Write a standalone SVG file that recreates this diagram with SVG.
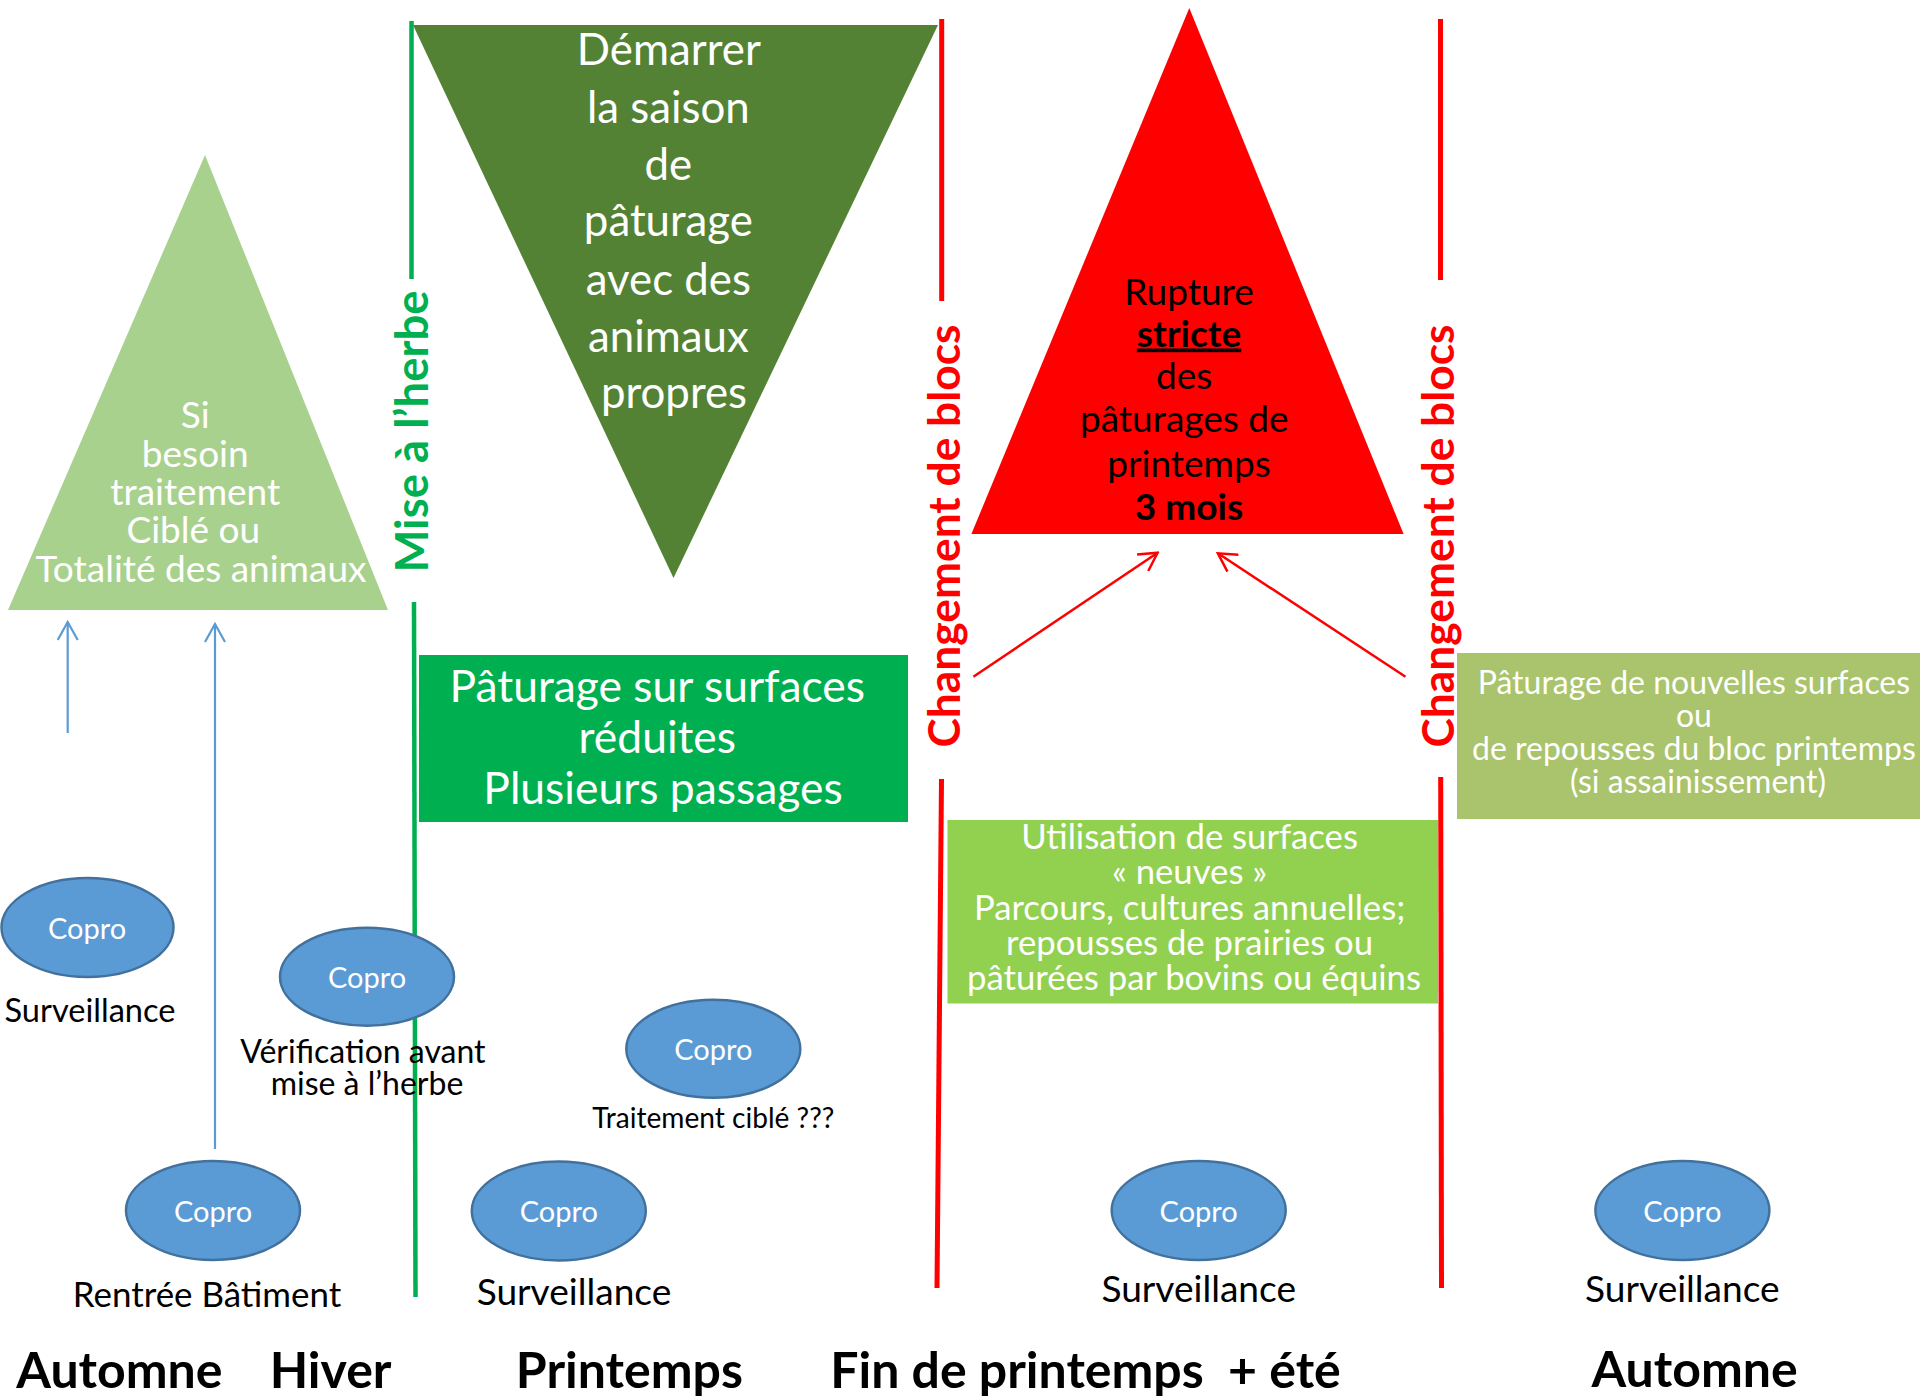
<svg xmlns="http://www.w3.org/2000/svg" width="1920" height="1398" viewBox="0 0 1920 1398">
<style>
text{font-family:Lato,"Open Sans","Liberation Sans",sans-serif;text-anchor:middle}
.w{fill:#ffffff}
.k{fill:#000000}
.b{font-weight:700}
.copro{fill:#5B9BD5;stroke:#41719C;stroke-width:2.5}
.ct{fill:#ffffff;font-size:29px}
.sep-g{stroke:#00B050;stroke-width:4.5;fill:none}
.sep-r{stroke:#FF0000;stroke-width:5;fill:none}
.arr-r{stroke:#FF0000;stroke-width:2.5;fill:none;marker-end:url(#mr)}
.arr-b{stroke:#5B9BD5;stroke-width:2.2;fill:none;marker-end:url(#mb)}
.season{font-size:50px;font-weight:700;fill:#000;white-space:pre}
</style>
<defs>
<marker id="mr" viewBox="0 0 22 22" refX="20" refY="11" markerWidth="22" markerHeight="22" markerUnits="userSpaceOnUse" orient="auto">
<path d="M2,1 L20,11 L2,21" fill="none" stroke="#FF0000" stroke-width="2.5"/>
</marker>
<marker id="mb" viewBox="0 0 22 22" refX="20" refY="11" markerWidth="22" markerHeight="22" markerUnits="userSpaceOnUse" orient="auto">
<path d="M2,1 L20,11 L2,21" fill="none" stroke="#5B9BD5" stroke-width="2.2"/>
</marker>
</defs>
<rect x="0" y="0" width="1920" height="1398" fill="#ffffff"/>

<g id="separators">
<line class="sep-g" x1="411.5" y1="21" x2="411.5" y2="279"/>
<line class="sep-g" x1="414" y1="602" x2="415.5" y2="1297"/>
<line class="sep-r" x1="941.7" y1="19" x2="941.7" y2="301"/>
<line class="sep-r" x1="941.5" y1="779" x2="937" y2="1288"/>
<line class="sep-r" x1="1440.5" y1="19" x2="1440.5" y2="280"/>
<line class="sep-r" x1="1440.7" y1="777" x2="1441.5" y2="1288"/>
</g>

<g id="label-mise-herbe">
<text class="b" font-size="45.5" fill="#00B050" transform="translate(427.5,431.5) rotate(-90)">Mise à l’herbe</text>
</g>
<g id="label-changement-1">
<text class="b" font-size="44.3" fill="#FF0000" transform="translate(960,536) rotate(-90)">Changement de blocs</text>
</g>
<g id="label-changement-2">
<text class="b" font-size="44.3" fill="#FF0000" transform="translate(1453.5,536) rotate(-90)">Changement de blocs</text>
</g>

<g id="triangle-traitement">
<polygon points="205,155 8,610 388,610" fill="#A9D18E"/>
<text class="w" font-size="37">
<tspan x="200" y="428">Si</tspan>
<tspan x="200" y="467">besoin</tspan>
<tspan x="200" y="505">traitement</tspan>
<tspan x="198" y="543">Ciblé ou</tspan>
<tspan x="201" y="582">Totalité des animaux</tspan>
</text>
</g>

<g id="triangle-demarrer">
<polygon points="413,25 938,25 673.5,578" fill="#548235"/>
<text class="w" font-size="43.8">
<tspan x="674" y="65">Démarrer</tspan>
<tspan x="674" y="122.5">la saison</tspan>
<tspan x="674" y="180">de</tspan>
<tspan x="674" y="236">pâturage</tspan>
<tspan x="674" y="294.5">avec des</tspan>
<tspan x="674" y="352">animaux</tspan>
<tspan x="674" y="408">propres</tspan>
</text>
</g>

<g id="triangle-rupture">
<polygon points="1189.3,8 971.4,534 1403.6,534" fill="#FF0000"/>
<text class="k" font-size="37">
<tspan x="1189" y="305">Rupture</tspan>
</text>
<text class="k b" font-size="37" x="1189" y="346.5" text-decoration="underline">stricte</text>
<text class="k" font-size="37">
<tspan x="1189" y="389">des</tspan>
<tspan x="1189" y="432">pâturages de</tspan>
<tspan x="1189" y="477">printemps</tspan>
</text>
<text class="k b" font-size="37" x="1189" y="519.5">3 mois</text>
</g>

<g id="box-paturage-reduit">
<rect x="419" y="655" width="489" height="167" fill="#00B050"/>
<text class="w" font-size="44.4">
<tspan x="663" y="701.5">Pâturage sur surfaces</tspan>
<tspan x="663" y="752.5">réduites</tspan>
<tspan x="663" y="804">Plusieurs passages</tspan>
</text>
</g>

<g id="box-surfaces-neuves">
<rect x="947.5" y="820" width="490.5" height="183.5" fill="#92D050"/>
<text class="w" font-size="34.7">
<tspan x="1194" y="848.5">Utilisation de surfaces</tspan>
<tspan x="1194" y="883.5">« neuves »</tspan>
<tspan x="1194" y="920">Parcours, cultures annuelles;</tspan>
<tspan x="1194" y="955">repousses de prairies ou</tspan>
<tspan x="1194" y="990">pâturées par bovins ou équins</tspan>
</text>
</g>

<g id="box-nouvelles-surfaces">
<rect x="1457" y="653" width="470" height="166" fill="#A9C46C"/>
<text class="w" font-size="32">
<tspan x="1698" y="694">Pâturage de nouvelles surfaces</tspan>
<tspan x="1698" y="727">ou</tspan>
<tspan x="1698" y="760">de repousses du bloc printemps</tspan>
<tspan x="1698" y="792.5">(si assainissement)</tspan>
</text>
</g>

<g id="connectors">
<line class="arr-r" x1="973.4" y1="676.7" x2="1157.6" y2="552.7"/>
<line class="arr-r" x1="1405.5" y1="676.7" x2="1217.9" y2="553.3"/>
<line class="arr-b" x1="67.7" y1="733" x2="67.7" y2="622"/>
<line class="arr-b" x1="215" y1="1149" x2="215" y2="624"/>
</g>

<g id="copro-surveillance-automne">
<ellipse class="copro" cx="87.5" cy="927.5" rx="86" ry="49.5"/>
<text class="ct" x="87" y="939">Copro</text>
<text class="k" font-size="32.6" x="90" y="1021.5">Surveillance</text>
</g>

<g id="copro-verification">
<ellipse class="copro" cx="367" cy="976.7" rx="87" ry="49"/>
<text class="ct" x="367" y="988">Copro</text>
<text class="k" font-size="32">
<tspan x="367" y="1062.5">Vérification avant</tspan>
<tspan x="367" y="1095">mise à l’herbe</tspan>
</text>
</g>

<g id="copro-traitement-cible">
<ellipse class="copro" cx="713.3" cy="1048.8" rx="87" ry="49"/>
<text class="ct" x="713.3" y="1060">Copro</text>
<text class="k" font-size="28.1" x="713.3" y="1127.5">Traitement ciblé ???</text>
</g>

<g id="copro-rentree">
<ellipse class="copro" cx="213" cy="1210.5" rx="87" ry="49.5"/>
<text class="ct" x="213" y="1221.7">Copro</text>
<text class="k" font-size="34.9" x="207" y="1306.5">Rentrée Bâtiment</text>
</g>

<g id="copro-printemps">
<ellipse class="copro" cx="558.8" cy="1211" rx="87" ry="49.5"/>
<text class="ct" x="558.8" y="1221.7">Copro</text>
<text class="k" font-size="37.1" x="574" y="1305">Surveillance</text>
</g>

<g id="copro-ete">
<ellipse class="copro" cx="1198.7" cy="1210.5" rx="87" ry="49.5"/>
<text class="ct" x="1198.7" y="1221.7">Copro</text>
<text class="k" font-size="37.1" x="1198.7" y="1301.7">Surveillance</text>
</g>

<g id="copro-automne-2">
<ellipse class="copro" cx="1682.4" cy="1210.5" rx="87" ry="49.5"/>
<text class="ct" x="1682.4" y="1221.7">Copro</text>
<text class="k" font-size="37.1" x="1682.4" y="1301.7">Surveillance</text>
</g>

<g id="seasons">
<text class="season" x="119.4" y="1388">Automne</text>
<text class="season" x="330.6" y="1388">Hiver</text>
<text class="season" x="629.4" y="1388">Printemps</text>
<text class="season" x="1085.5" y="1388" xml:space="preserve">Fin de printemps  + été</text>
<text class="season" x="1694.6" y="1387">Automne</text>
</g>
</svg>
